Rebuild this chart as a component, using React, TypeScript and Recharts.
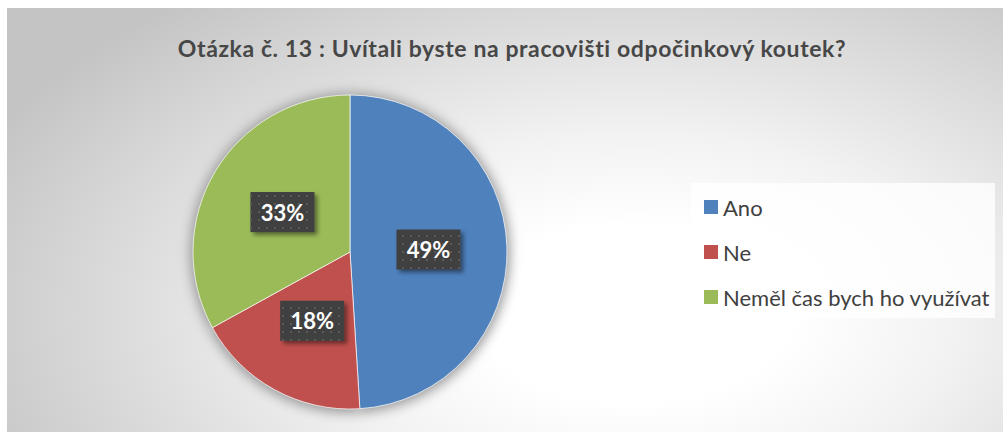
import { PieChart, Pie, Cell, Legend } from "recharts"

const CATEGORIES = ["Ano", "Ne", "Neměl čas bych ho využívat"]
const VALUES = [49, 18, 33]
const COLORS = ["#4f81bd", "#c0504d", "#9bbb59"]
const TITLE = "Otázka č. 13 : Uvítali byste na pracovišti odpočinkový koutek?"

const data = CATEGORIES.map((name, i) => ({ name, value: VALUES[i] }))

const RADIAN = Math.PI / 180
const FONT = "Lato, 'Open Sans', sans-serif"

// dark textured data label box, sits halfway out along the slice
function renderLabel(props: any) {
  const { cx, cy, midAngle, outerRadius, percent } = props
  const r = outerRadius * 0.5
  const x = cx + r * Math.cos(-midAngle * RADIAN)
  const y = cy + r * Math.sin(-midAngle * RADIAN)
  const w = 64
  const h = 40
  return (
    <g>
      <rect x={x - w / 2} y={y - h / 2} width={w} height={h} fill="#3f3f3f" filter="url(#lblShadow)" />
      <rect x={x - w / 2} y={y - h / 2} width={w} height={h} fill="url(#dots)" />
      <text
        x={x}
        y={y}
        textAnchor="middle"
        dominantBaseline="central"
        fill="#ffffff"
        fontFamily={FONT}
        fontWeight={700}
        fontSize={22}
      >
        {`${Math.round(percent * 100)}%`}
      </text>
    </g>
  )
}

function LegendBox() {
  return (
    <div
      style={{
        width: 304,
        height: 135,
        background: "rgba(255,255,255,0.8)",
        position: "relative",
      }}
    >
      {CATEGORIES.map((name, i) => (
        <div
          key={name}
          style={{
            position: "absolute",
            left: 13,
            top: 24 + i * 45 - 12,
            height: 24,
            display: "flex",
            alignItems: "center",
            fontFamily: FONT,
            fontSize: 22,
            color: "#404040",
            whiteSpace: "nowrap",
          }}
        >
          <span style={{ width: 14, height: 14, background: COLORS[i], marginRight: 5, display: "inline-block" }} />
          {name}
        </div>
      ))}
    </div>
  )
}

export default function App() {
  return (
    <div
      style={{
        position: "absolute",
        left: 7,
        top: 8,
        width: 996,
        height: 424,
        background: "radial-gradient(ellipse 72% 95% at 63% 72%, #ffffff 22%, #f2f2f2 45%, #c4c4c4 100%)",
      }}
    >
      <svg width={0} height={0} style={{ position: "absolute" }}>
        <defs>
          <pattern id="dots" width={8} height={8} patternUnits="userSpaceOnUse">
            <rect x={3} y={3} width={2} height={2} fill="#5a5a5a" />
          </pattern>
          <filter id="lblShadow" x="-30%" y="-30%" width="160%" height="160%">
            <feDropShadow dx={3} dy={3} stdDeviation={2} floodColor="#000" floodOpacity={0.45} />
          </filter>
        </defs>
      </svg>
      <div
        style={{
          position: "absolute",
          left: 0,
          width: 1010,
          top: 26,
          textAlign: "center",
          fontFamily: FONT,
          fontWeight: 700,
          fontSize: 23,
          letterSpacing: 0.6,
          color: "#474747",
        }}
      >
        {TITLE}
      </div>
      <PieChart width={996} height={424} style={{ position: "absolute", left: 0, top: 0 }}>
        {/* soft shadow under the pie */}
        <Pie
          data={data}
          dataKey="value"
          nameKey="name"
          cx={338}
          cy={240}
          outerRadius={160}
          startAngle={90}
          endAngle={-270}
          stroke="none"
          legendType="none"
          isAnimationActive={false}
        >
          {data.map((d) => (
            <Cell key={d.name} fill="#9a9a9a" style={{ filter: "blur(6px)" }} />
          ))}
        </Pie>
        <Pie
          data={data}
          dataKey="value"
          nameKey="name"
          cx={338}
          cy={239}
          outerRadius={157}
          startAngle={90}
          endAngle={-270}
          stroke="#ffffff"
          strokeWidth={0.7}
          labelLine={false}
          label={renderLabel}
          isAnimationActive={false}
        >
          {data.map((d, i) => (
            <Cell key={d.name} fill={COLORS[i]} />
          ))}
        </Pie>
        <Legend
          layout="vertical"
          content={<LegendBox />}
          wrapperStyle={{ left: 684, top: 175, width: 304 }}
        />
      </PieChart>
    </div>
  )
}
